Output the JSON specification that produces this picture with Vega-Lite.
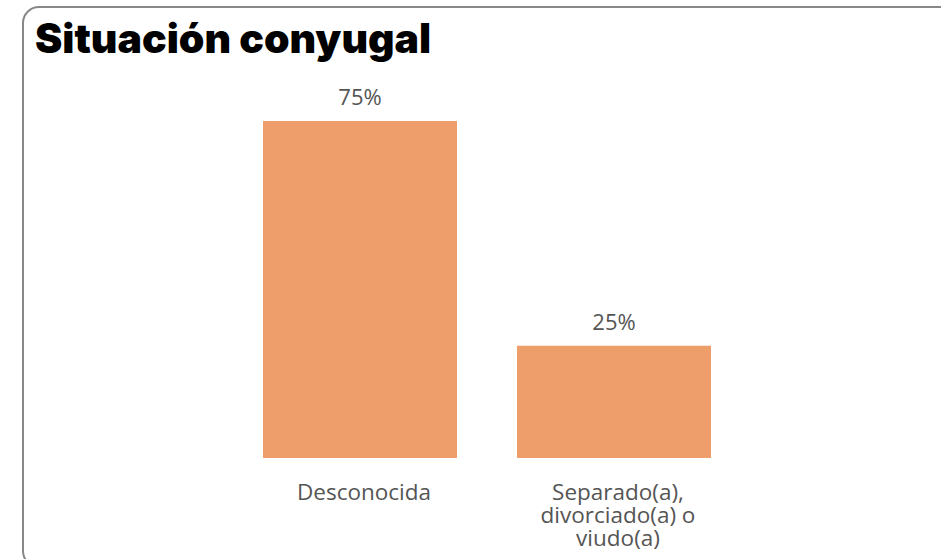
{
  "$schema": "https://vega.github.io/schema/vega-lite/v6.json",
  "autosize": "none",
  "padding": {"left": 23, "top": 7, "right": 0, "bottom": 0},
  "width": 950,
  "height": 560,
  "background": "white",
  "title": {
    "text": "Situación conyugal",
    "anchor": "start",
    "orient": "bottom",
    "offset": -514,
    "baseline": "alphabetic",
    "dx": 12,
    "font": "Inter",
    "fontSize": 41,
    "fontWeight": 900,
    "color": "#000000"
  },
  "data": {
    "values": [
      {"categoria": "Desconocida", "pct": 75, "etiqueta": "75%"},
      {"categoria": "Separado(a), divorciado(a) o viudo(a)", "pct": 25, "etiqueta": "25%"}
    ]
  },
  "encoding": {
    "x": {
      "field": "categoria",
      "type": "nominal",
      "sort": null,
      "scale": {"range": [240, 688], "paddingInner": 0.2362, "paddingOuter": 0},
      "axis": {
        "title": null,
        "domain": false,
        "ticks": false,
        "labelAngle": 0,
        "offset": -109,
        "labelPadding": 23,
        "labelOffset": 4,
        "labelFont": "Open Sans",
        "labelFontSize": 22.5,
        "labelColor": "#555555",
        "labelLineHeight": 23,
        "labelBaseline": "top",
        "labelExpr": "datum.value == 'Desconocida' ? datum.value : ['Separado(a),', 'divorciado(a) o', 'viudo(a)']"
      }
    },
    "y": {
      "field": "pct",
      "type": "quantitative",
      "scale": {"domain": [0, 75], "range": [451, 114], "nice": false, "zero": true},
      "axis": null
    }
  },
  "layer": [
    {"mark": {"type": "bar", "color": "#ED9E6A"}},
    {
      "mark": {"type": "text", "baseline": "alphabetic", "dy": -16, "font": "Open Sans", "fontSize": 22, "color": "#555555"},
      "encoding": {"text": {"field": "etiqueta"}}
    }
  ],
  "config": {
    "view": {"stroke": "#888888", "strokeWidth": 2, "cornerRadius": 16, "fill": "white"}
  }
}
